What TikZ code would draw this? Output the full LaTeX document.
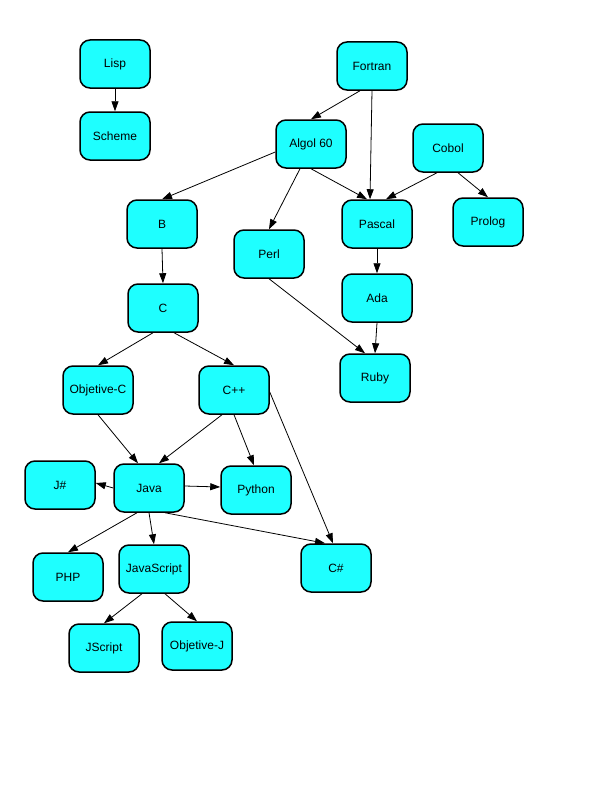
\documentclass[tikz,border=0pt]{standalone}
\usepackage{fontspec}
\setmainfont{Liberation Sans}
\usepackage{tikz}
\usetikzlibrary{arrows.meta,positioning}
\definecolor{langfill}{HTML}{1EFFFF}

\begin{document}
\begin{tikzpicture}[x=1pt,y=-1pt,
    lang/.style={draw=black,line width=1.5pt,fill=langfill,rounded corners=10pt,
      minimum width=70pt,minimum height=48pt,inner sep=0pt,
      font=\fontsize{12}{14}\selectfont},
    >={Triangle[length=10pt,width=7pt]},
    every path/.append style={line width=0.8pt}]
  \useasboundingbox (0,0) rectangle (600,800);
  \node (lisp) [lang] at (115,64) {Lisp};
  \node (scheme) [lang] at (115,136) {Scheme};
  \node (fortran) [lang] at (372,66) {Fortran};
  \node (algol) [lang] at (311,144) {Algol 60};
  \node (cobol) [lang] at (448,148) {Cobol};
  \node (b) [lang] at (162,224) {B};
  \node (pascal) [lang] at (377,224) {Pascal};
  \node (prolog) [lang] at (488,222) {Prolog};
  \node (perl) [lang] at (269,254) {Perl};
  \node (ada) [lang] at (377,298) {Ada};
  \node (c) [lang] at (163,308) {C};
  \node (ruby) [lang] at (375,378) {Ruby};
  \node (objc) [lang] at (98,390) {Objetive-C};
  \node (cpp) [lang] at (234,390) {C++};
  \node (jsharp) [lang] at (60,485) {J\#};
  \node (java) [lang] at (149,488) {Java};
  \node (python) [lang] at (256,490) {Python};
  \node (php) [lang] at (68,577) {PHP};
  \node (js) [lang] at (154,569) {JavaScript};
  \node (csharp) [lang] at (336,568) {C\#};
  \node (jscript) [lang] at (104,648) {JScript};
  \node (objj) [lang] at (197,646) {Objetive-J};
  \draw[->] (lisp.south) to (scheme.north);
  \draw[->] ([xshift=-12pt]fortran.south) to (algol.north);
  \draw[->] (fortran.south) to ([xshift=-7pt]pascal.north);
  \draw[->] ([yshift=-8pt]algol.west) to (b.north);
  \draw[->] ([xshift=-11pt]algol.south) to (perl.north);
  \draw[->] (algol.south) to ([xshift=-10pt]pascal.north);
  \draw[->] ([xshift=-11pt]cobol.south) to ([xshift=9pt]pascal.north);
  \draw[->] ([xshift=10pt]cobol.south) to (prolog.north);
  \draw[->] (b.south) to (c.north);
  \draw[->] (pascal.south) to (ada.north);
  \draw[->] (perl.south) to ([xshift=-10pt]ruby.north);
  \draw[->] (ada.south) to (ruby.north);
  \draw[->] ([xshift=-10pt]c.south) to (objc.north);
  \draw[->] ([xshift=11pt]c.south) to (cpp.north);
  \draw[->] (objc.south) to ([xshift=-11pt]java.north);
  \draw[->] ([xshift=-12pt]cpp.south) to ([xshift=10pt]java.north);
  \draw[->] (cpp.south) to ([xshift=-2pt]python.north);
  \draw[->] ([yshift=-2pt]cpp.east) to ([xshift=-3pt]csharp.north);
  \draw[->] (java.west) to ([yshift=2pt]jsharp.east);
  \draw[->] ([yshift=2pt]java.east) to ([yshift=3pt]python.west);
  \draw[->] ([xshift=-12pt]java.south) to (php.north);
  \draw[->] (java.south) to (js.north);
  \draw[->] ([xshift=16pt]java.south) to ([xshift=-11pt]csharp.north);
  \draw[->] ([xshift=-12pt]js.south) to (jscript.north);
  \draw[->] ([xshift=11pt]js.south) to (objj.north);
\end{tikzpicture}
\end{document}
